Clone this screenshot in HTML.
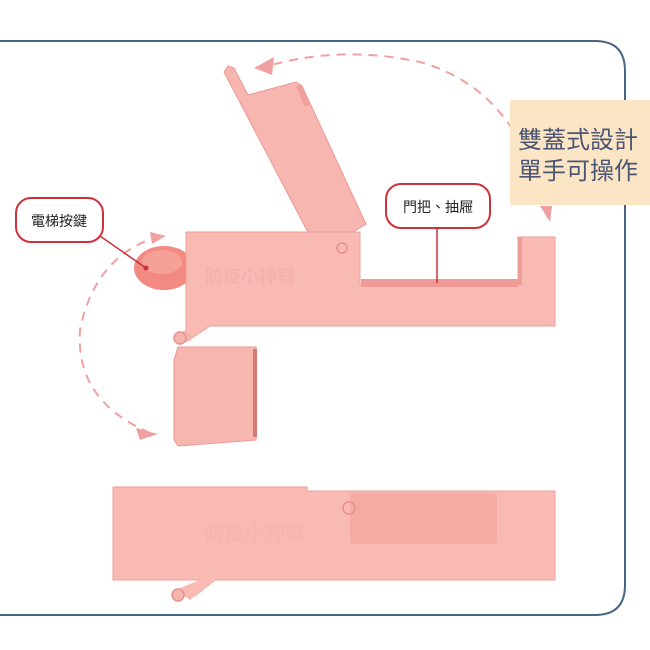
<!DOCTYPE html>
<html><head><meta charset="utf-8"><style>
body{margin:0;background:#fff;}
svg{display:block;font-family:"Liberation Sans","Noto Sans CJK TC",sans-serif;}
</style></head><body>
<svg width="650" height="650" viewBox="0 0 650 650">
<rect width="650" height="650" fill="#fff"/>
<path d="M0 41 H595 Q625 41 625 71 V585 Q625 615 595 615 H0" fill="none" stroke="#4a6584" stroke-width="2"/>
<!-- arcs -->
<path d="M548 218 Q520 90 420 62 Q340 45 268 66" fill="none" stroke="#f0a0a0" stroke-width="2" stroke-dasharray="9,7"/>
<polygon points="254,68 274,57 272,75" fill="#f0a0a0"/>
<polygon points="540,206 552,206 550,222" fill="#f0a0a0"/>
<path d="M160 236 Q95 255 80 330 Q75 400 148 432" fill="none" stroke="#f0a0a0" stroke-width="2" stroke-dasharray="9,7"/>
<polygon points="150,232 166,236 152,244" fill="#f0a0a0"/>
<polygon points="136,428 158,434 140,440" fill="#f0a0a0"/>
<!-- lid -->
<polygon points="228,66 234,68 248,95 296,82 302,86 366,224 336,242 312,240 224,72" fill="#f8b6b0" stroke="#ec9893" stroke-width="1"/>
<rect x="300" y="84" width="6" height="22" fill="#f0a09a" transform="rotate(-24 304 95)"/>
<!-- button -->
<ellipse cx="164" cy="268" rx="30" ry="22" fill="#f28a82"/>
<ellipse cx="162" cy="262" rx="20" ry="12" fill="#f5a199"/>
<!-- main body -->
<path d="M186 232 H360 V284 H518 V237 H555 V326 H210 L192 338 L186 332 Z" fill="#f9bab4" stroke="#ee9e98" stroke-width="1"/>
<rect x="361" y="279" width="157" height="8" fill="#f09a96"/>
<rect x="518" y="237" width="4" height="48" fill="#ee9c96"/>
<circle cx="342" cy="248" r="5" fill="none" stroke="#e8908a" stroke-width="1.5"/>
<path d="M186 330 L176 334 L178 345 L192 340 Z" fill="#f7b4ae"/>
<circle cx="180" cy="338" r="6" fill="#f7b4ae" stroke="#e8908a" stroke-width="1.5"/>
<text x="205" y="283" font-size="18" fill="#f5b2ad" font-weight="bold">防疫小神器</text>
<!-- small cover -->
<path d="M178 347 H256 V440 L178 446 L174 440 V360 Z" fill="#f8b6b0" stroke="#ec9893" stroke-width="1"/>
<rect x="253" y="349" width="4" height="88" fill="#d87a74"/>
<!-- bottom body -->
<path d="M113 487 H307 V491 H555 V580 H215 L195 596 L185 590 L200 580 H113 Z" fill="#f9bab4" stroke="#ee9e98" stroke-width="1"/>
<path d="M200 580 L215 580 L190 600 L175 590 Z" fill="#f9bab4"/>
<rect x="350" y="493" width="147" height="51" rx="3" fill="#f6aaa4"/>
<circle cx="349" cy="508" r="6" fill="none" stroke="#e8908a" stroke-width="1.5"/>
<circle cx="178" cy="595" r="6" fill="#f7b4ae" stroke="#e8908a" stroke-width="1.5"/>
<text x="205" y="540" font-size="20" fill="#f6b6b0" font-weight="bold">防疫小神器</text>
<!-- labels -->
<line x1="100" y1="236" x2="146" y2="268" stroke="#c8303c" stroke-width="1.5"/>
<circle cx="146" cy="268" r="2.5" fill="#c8303c"/>
<rect x="16" y="198" width="87" height="44" rx="15" fill="#fff" stroke="#d0303c" stroke-width="2"/>
<text x="59" y="226" font-size="14" text-anchor="middle" fill="#222">電梯按鍵</text>
<line x1="437" y1="228" x2="437" y2="283" stroke="#c8303c" stroke-width="1.5"/>
<rect x="386" y="184" width="104" height="44" rx="15" fill="#fff" stroke="#d0303c" stroke-width="2"/>
<text x="438" y="212" font-size="14" text-anchor="middle" fill="#222">門把、抽屜</text>
<rect x="510" y="100" width="140" height="105" fill="#fce5c4"/>
<text x="518" y="148" font-size="24" fill="#4b5675">雙蓋式設計</text>
<text x="518" y="179" font-size="24" fill="#4b5675">單手可操作</text>
</svg>
</body></html>
